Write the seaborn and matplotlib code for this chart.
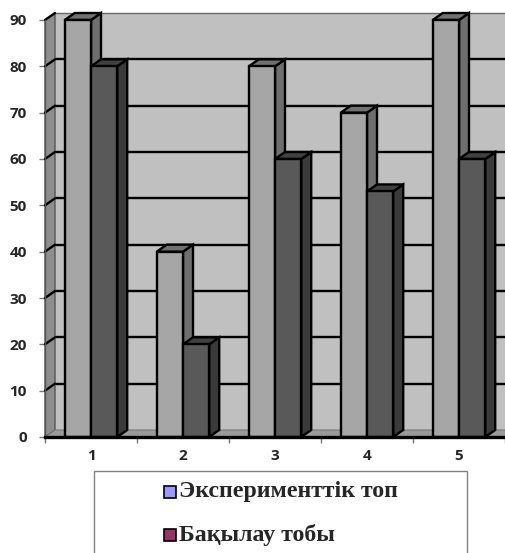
import matplotlib
matplotlib.use("Agg")
import matplotlib.pyplot as plt
import seaborn as sns
import pandas as pd
from matplotlib.patches import Polygon, Rectangle

# ---- data ----
categories = ["1", "2", "3", "4", "5"]
experimental = [90, 40, 80, 70, 90]
control = [80, 20, 60, 53, 60]
series_names = ["Эксперименттік топ", "Бақылау тобы"]
yticks = [0, 10, 20, 30, 40, 50, 60, 70, 80, 90]

df = pd.DataFrame({
    "cat": categories * 2,
    "val": experimental + control,
    "grp": [series_names[0]] * len(categories) + [series_names[1]] * len(categories),
})

# ---- styling ----
sns.set_style("white")
plt.rcParams["font.family"] = ["Open Sans", "DejaVu Sans"]

W, H = 506, 553
fig = plt.figure(figsize=(W / 100, H / 100), dpi=100)
fig.patch.set_facecolor("white")

def fx(px):
    return px / W

def fy(py):
    return 1 - py / H

ax_left, ax_right, ax_top, ax_bot = 45, 505, 20, 437
ax = fig.add_axes([fx(ax_left), fy(ax_bot), (ax_right - ax_left) / W, (ax_bot - ax_top) / H])

front_cols = ["#a6a6a6", "#595959"]
side_cols = ["#6e6e6e", "#3a3a3a"]
top_cols = ["#717171", "#404040"]

sns.barplot(data=df, x="cat", y="val", hue="grp", palette=front_cols,
            width=0.57, edgecolor="black", linewidth=1.7, ax=ax,
            legend=False, saturation=1, errorbar=None)

ax.set_xlim(-0.5, 4.5)
ymax = yticks[-1]
ax.set_ylim(0, ymax)

# 3D depth in data units
dx = 10 / ((ax_right - ax_left) / 5)
dy = 7 / (ax_bot - ax_top) * ymax
x0, x1 = -0.5, 4.5

# back wall
ax.add_patch(Polygon([(x0 + dx, dy), (x1 + dx, dy), (x1 + dx, ymax + dy), (x0 + dx, ymax + dy)],
                     closed=True, facecolor="#c0c0c0", edgecolor="none", zorder=0.5, clip_on=False))
for yv in yticks[1:-1]:
    ax.plot([x0 + dx, x1 + dx], [yv + dy, yv + dy], color="black", lw=1.7, zorder=0.8,
            clip_on=False, solid_capstyle="butt")
ax.plot([x0 + dx, x1 + dx], [ymax + dy, ymax + dy], color="#6a6a6a", lw=1.0, zorder=0.8, clip_on=False)

# left wall
ax.add_patch(Polygon([(x0, 0), (x0 + dx, dy), (x0 + dx, ymax + dy), (x0, ymax)],
                     closed=True, facecolor="#8e8e8e", edgecolor="#555555", lw=1.0, zorder=0.9, clip_on=False))
for yv in yticks[1:]:
    ax.plot([x0, x0 + dx], [yv, yv + dy], color="black", lw=1.7, zorder=1.0, clip_on=False)

# floor
ax.add_patch(Polygon([(x0, 0), (x1, 0), (x1 + dx, dy), (x0 + dx, dy)],
                     closed=True, facecolor="#9a9a9a", edgecolor="#777777", lw=0.8, zorder=1.1, clip_on=False))

# bars: 3D sides and tops
for level, cont in enumerate(ax.containers):
    zf = 3 + 2 * level
    for bar in cont:
        bx, bw, bh = bar.get_x(), bar.get_width(), bar.get_height()
        bar.set_zorder(zf)
        side = Polygon([(bx + bw, 0), (bx + bw + dx, dy), (bx + bw + dx, bh + dy), (bx + bw, bh)],
                       closed=True, facecolor=side_cols[level], edgecolor="black", lw=1.7,
                       zorder=zf - 0.5, clip_on=False)
        top = Polygon([(bx, bh), (bx + dx, bh + dy), (bx + bw + dx, bh + dy), (bx + bw, bh)],
                      closed=True, facecolor=top_cols[level], edgecolor="black", lw=1.7,
                      zorder=zf - 0.5, clip_on=False)
        ax.add_patch(side)
        ax.add_patch(top)
        bar.set_clip_on(False)

# axes / ticks
for s in ["top", "right"]:
    ax.spines[s].set_visible(False)
ax.spines["bottom"].set_linewidth(2.4)
ax.spines["bottom"].set_color("black")
ax.spines["bottom"].set_zorder(10)
ax.spines["left"].set_linewidth(1.0)
ax.spines["left"].set_color("#555555")
ax.set_facecolor("none")

ax.set_yticks(yticks)
ax.set_yticklabels([str(v) for v in yticks], fontsize=11, fontweight="bold")
ax.tick_params(axis="y", length=4, width=1, color="#777777", pad=9, left=True)

ax.set_xticks(range(len(categories)))
ax.set_xticklabels(categories, fontsize=11, fontweight="bold")
ax.set_xticks([i - 0.5 for i in range(len(categories) + 1)], minor=True)
ax.tick_params(axis="x", which="major", length=0, pad=9)
ax.tick_params(axis="x", which="minor", length=4, width=1, color="#777777", bottom=True)
ax.set_xlabel("")
ax.set_ylabel("")

# legend (manual, cropped at figure bottom)
fig.patches.append(Rectangle((fx(94), fy(560)), fx(467) - fx(94), fy(471) - fy(560),
                             transform=fig.transFigure, facecolor="none", edgecolor="#808080",
                             lw=1.0, figure=fig))
leg_cols = ["#9999ff", "#993366"]
leg_y = [492, 535]
for name, col, yy in zip(series_names, leg_cols, leg_y):
    fig.patches.append(Rectangle((fx(164), fy(yy + 6)), fx(176) - fx(164), fy(yy - 6) - fy(yy + 6),
                                 transform=fig.transFigure, facecolor=col, edgecolor="black",
                                 lw=1.2, figure=fig))
    fig.text(fx(179), fy(yy), name, fontsize=17.2, fontweight="bold",
             family=["Liberation Serif", "DejaVu Serif"], ha="left", va="center")

fig.savefig("out.png", dpi=100)
